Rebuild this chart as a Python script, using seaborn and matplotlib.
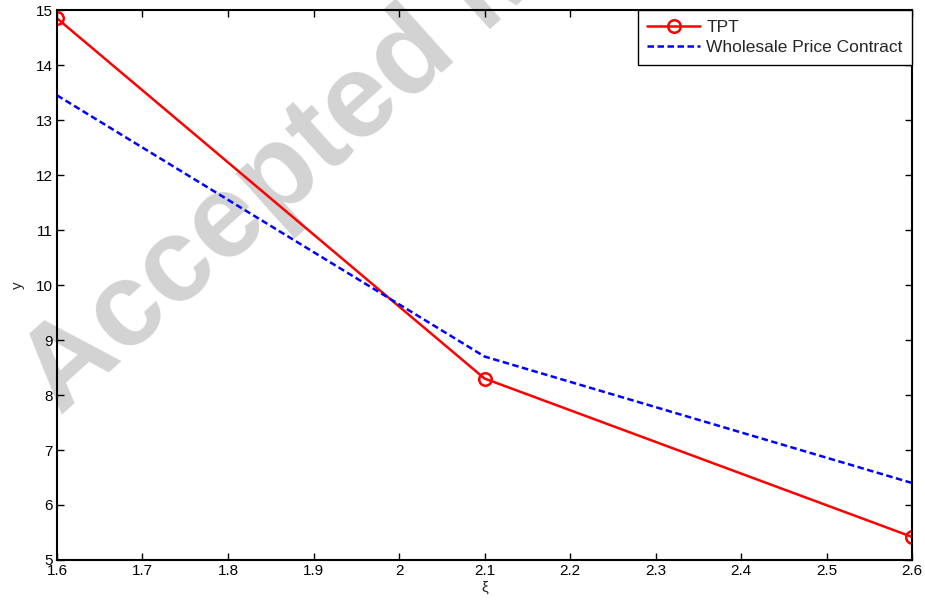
import matplotlib
matplotlib.use("Agg")
import matplotlib.pyplot as plt
import seaborn as sns
import pandas as pd

# values
xi = [1.6, 2.1, 2.6]
tpt = [14.85, 8.30, 5.42]
wholesale = [13.45, 8.70, 6.40]
x_ticks = [1.6, 1.7, 1.8, 1.9, 2.0, 2.1, 2.2, 2.3, 2.4, 2.5, 2.6]
x_labels = ["1.6", "1.7", "1.8", "1.9", "2", "2.1", "2.2", "2.3", "2.4", "2.5", "2.6"]
y_ticks = [5, 6, 7, 8, 9, 10, 11, 12, 13, 14, 15]

df = pd.DataFrame({"xi": xi, "TPT": tpt, "Wholesale Price Contract": wholesale})

sns.set_theme(style="ticks")
plt.rcParams["font.family"] = ["Liberation Sans", "DejaVu Sans"]

fig = plt.figure(figsize=(9.25, 6.11), dpi=100)
ax = fig.add_axes([0.0616, 0.0835, 0.9244, 0.9])
ax.set_facecolor("none")
ax.set_zorder(2)

# watermark behind the axes
fig.text(0.0649, 0.319, "Accepted Manuscript", rotation=42, rotation_mode="anchor",
         fontsize=86, fontweight="bold", color="#d3d3d3", ha="left", va="baseline",
         zorder=0, family=["Liberation Sans", "DejaVu Sans"])

sns.lineplot(data=df, x="xi", y="TPT", ax=ax, color="red", linewidth=1.8,
             marker="o", markersize=9, markerfacecolor="none",
             markeredgecolor="red", markeredgewidth=1.8, label="TPT")
sns.lineplot(data=df, x="xi", y="Wholesale Price Contract", ax=ax, color="blue",
             linewidth=1.8, linestyle=(0, (2.6, 1.4)), label="Wholesale Price Contract")

ax.set_xlim(1.6, 2.6)
ax.set_ylim(5, 15)
ax.set_xticks(x_ticks)
ax.set_xticklabels(x_labels)
ax.set_yticks(y_ticks)
ax.tick_params(direction="in", top=True, right=True, length=5, width=1,
               labelsize=11, pad=3, colors="black")
for s in ax.spines.values():
    s.set_linewidth(1.5)
    s.set_color("black")
ax.set_xlabel("ξ", fontsize=11, labelpad=2)
ax.set_ylabel("y", fontsize=11, labelpad=8)

leg = ax.legend(loc="upper right", fontsize=12.5, frameon=True, fancybox=False,
                edgecolor="black", framealpha=1, borderaxespad=0,
                borderpad=0.55, handlelength=3.05, handletextpad=0.35,
                labelspacing=0.32)
leg.get_frame().set_linewidth(1)

fig.savefig("out.png", dpi=100)
